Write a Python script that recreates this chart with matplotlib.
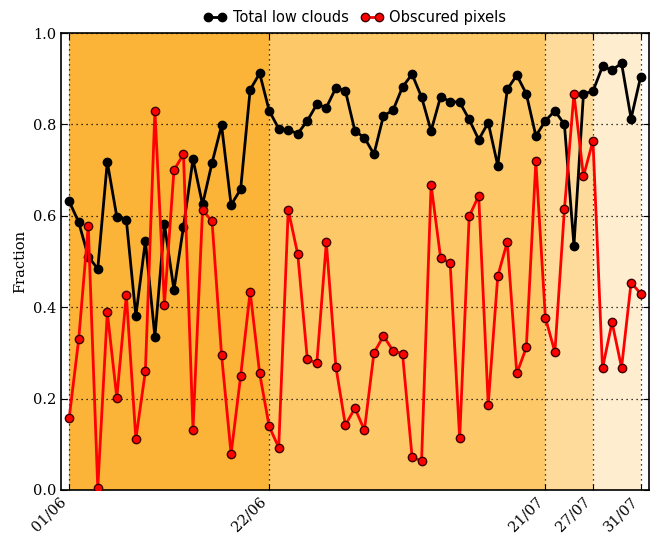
import matplotlib
matplotlib.use('Agg')
import matplotlib.pyplot as plt
import numpy as np

plt.rcParams['font.family'] = 'DejaVu Serif'

# fraction per day (61 days, index based)
total_low = [0.632, 0.586, 0.511, 0.484, 0.718, 0.598, 0.591, 0.381, 0.545, 0.335,
             0.582, 0.438, 0.576, 0.724, 0.625, 0.716, 0.798, 0.624, 0.658, 0.876,
             0.912, 0.830, 0.791, 0.788, 0.780, 0.808, 0.844, 0.837, 0.880, 0.874,
             0.786, 0.771, 0.735, 0.819, 0.831, 0.882, 0.910, 0.860, 0.786, 0.861,
             0.850, 0.849, 0.811, 0.767, 0.804, 0.710, 0.877, 0.908, 0.867, 0.775,
             0.808, 0.830, 0.800, 0.535, 0.867, 0.873, 0.927, 0.919, 0.934, 0.813,
             0.904]
obscured = [0.158, 0.330, 0.578, 0.004, 0.389, 0.202, 0.427, 0.112, 0.260, 0.830,
            0.406, 0.700, 0.735, 0.132, 0.613, 0.588, 0.295, 0.079, 0.249, 0.434,
            0.255, 0.139, 0.093, 0.613, 0.516, 0.287, 0.277, 0.542, 0.270, 0.142,
            0.179, 0.131, 0.300, 0.337, 0.305, 0.298, 0.073, 0.063, 0.668, 0.508,
            0.497, 0.113, 0.599, 0.644, 0.187, 0.468, 0.543, 0.255, 0.312, 0.719,
            0.377, 0.302, 0.614, 0.867, 0.687, 0.764, 0.266, 0.367, 0.268, 0.454,
            0.430]

tick_pos = [0, 21, 50, 55, 60]
tick_labels = ['01/06', '22/06', '21/07', '27/07', '31/07']
span_colors = ['#FBB437', '#FDC968', '#FEDB9A', '#FEEDCF']

x = np.arange(len(total_low))

fig = plt.figure(figsize=(6.5, 5.34), dpi=100)
ax = fig.add_axes([0.094, 0.0824, 0.904, 0.8556])

# shaded periods
for i in range(len(tick_pos) - 1):
    ax.axvspan(tick_pos[i], tick_pos[i + 1], color=span_colors[i], lw=0, zorder=0)

ax.plot(x, total_low, '-o', color='k', lw=2, ms=6, mec='k', mew=1,
        label='Total low clouds', zorder=3)
ax.plot(x, obscured, '-o', color='r', lw=2, ms=6, mec='#400000', mew=1,
        label='Obscured pixels', zorder=4)

ax.set_xlim(-0.85, 60.85)
ax.set_ylim(0, 1)
ax.set_yticks(np.arange(0, 1.01, 0.2))
ax.set_yticklabels(['%.1f' % v for v in np.arange(0, 1.01, 0.2)])
ax.set_xticks(tick_pos)
ax.set_xticklabels(tick_labels, rotation=45, ha='right')
ax.tick_params(direction='in', top=True, right=True, labelsize=10.5, length=4)
ax.grid(True, color='k', linestyle=(0, (1, 3)), lw=0.9)
ax.set_axisbelow(False)
for s in ax.spines.values():
    s.set_linewidth(1.2)
ax.set_ylabel('Fraction', fontsize=10.5)

leg = ax.legend(loc='lower center', bbox_to_anchor=(0.5, 1.005), ncol=2, frameon=False,
                numpoints=2, handlelength=1.6, handletextpad=0.4, columnspacing=0.8,
                borderaxespad=0, prop={'family': 'DejaVu Sans', 'size': 10.5})

fig.savefig('out.png', dpi=100)
